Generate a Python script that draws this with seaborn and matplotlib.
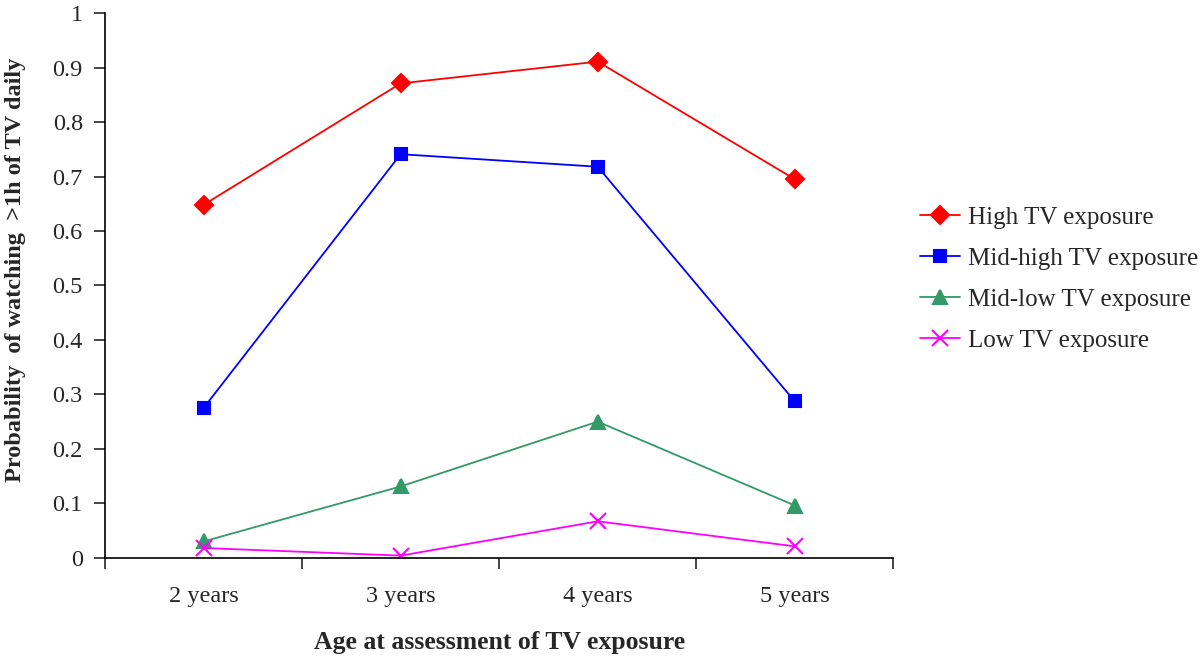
import pandas as pd
import matplotlib.pyplot as plt
import seaborn as sns

ages = ["2 years", "3 years", "4 years", "5 years"]
groups = ["High TV exposure", "Mid-high TV exposure", "Mid-low TV exposure", "Low TV exposure"]
high = [0.648, 0.871, 0.911, 0.695]
mid_high = [0.275, 0.741, 0.718, 0.287]
mid_low = [0.030, 0.131, 0.250, 0.096]
low = [0.018, 0.004, 0.067, 0.021]

rows = []
for g, vals in zip(groups, [high, mid_high, mid_low, low]):
    for a, v in zip(ages, vals):
        rows.append({"age": a, "group": g, "prob": v})
df = pd.DataFrame(rows)

sns.set_style("ticks")
plt.rcParams['font.family'] = ['Liberation Serif', 'DejaVu Serif']

colors = {"High TV exposure": "#FF0000", "Mid-high TV exposure": "#0000FF",
          "Mid-low TV exposure": "#339966", "Low TV exposure": "#FF00FF"}
markers = {"High TV exposure": "D", "Mid-high TV exposure": "s",
           "Mid-low TV exposure": "^", "Low TV exposure": "x"}
msizes = {"High TV exposure": 9.5, "Mid-high TV exposure": 9,
          "Mid-low TV exposure": 10, "Low TV exposure": 11}

fig = plt.figure(figsize=(12, 6.57), dpi=100)
ax = fig.add_axes([0.0875, 0.151, 0.657, 0.829])

for g in groups:
    sub = df[df["group"] == g]
    sns.lineplot(data=sub, x="age", y="prob", color=colors[g], marker=markers[g],
                 markersize=msizes[g], markeredgewidth=1.5, markeredgecolor=colors[g],
                 linewidth=1.3, label=g, ax=ax, sort=False)

ax.set_xlim(-0.5, 3.5)
ax.set_ylim(0, 1)
ax.set_yticks([i / 10 for i in range(11)])
ax.set_yticklabels(["0"] + [f"0.{i}" for i in range(1, 10)] + ["1"])
ax.set_xticks([i - 0.5 for i in range(5)], minor=False)
ax.set_xticklabels([])
ax.set_xticks(range(4), minor=True)
ax.set_xticklabels(ages, minor=True)
ax.tick_params(axis="x", which="minor", length=0, pad=20, labelsize=17.5)
ax.tick_params(axis="x", which="major", length=8, width=1.2, direction="out")
ax.tick_params(axis="y", length=8, width=1.2, labelsize=17.5, pad=8)
for s in ["top", "right"]:
    ax.spines[s].set_visible(False)
for s in ["left", "bottom"]:
    ax.spines[s].set_linewidth(1.2)
    ax.spines[s].set_color("black")

ax.set_xlabel("Age at assessment of TV exposure", fontsize=18.5, fontweight="bold")
ax.set_ylabel("Probability  of watching  >1h of TV daily", fontsize=17.5, fontweight="bold")
ax.yaxis.set_label_coords(-0.1, 0.528)
ax.xaxis.set_label_coords(0.5, -0.134)

handles, labels = ax.get_legend_handles_labels()
ax.legend(handles, labels, loc="upper left", bbox_to_anchor=(0.748, 0.72),
          bbox_transform=fig.transFigure, frameon=False, fontsize=18,
          handlelength=1.6, labelspacing=0.74, handletextpad=0.3)

fig.savefig("out.png", dpi=100)
